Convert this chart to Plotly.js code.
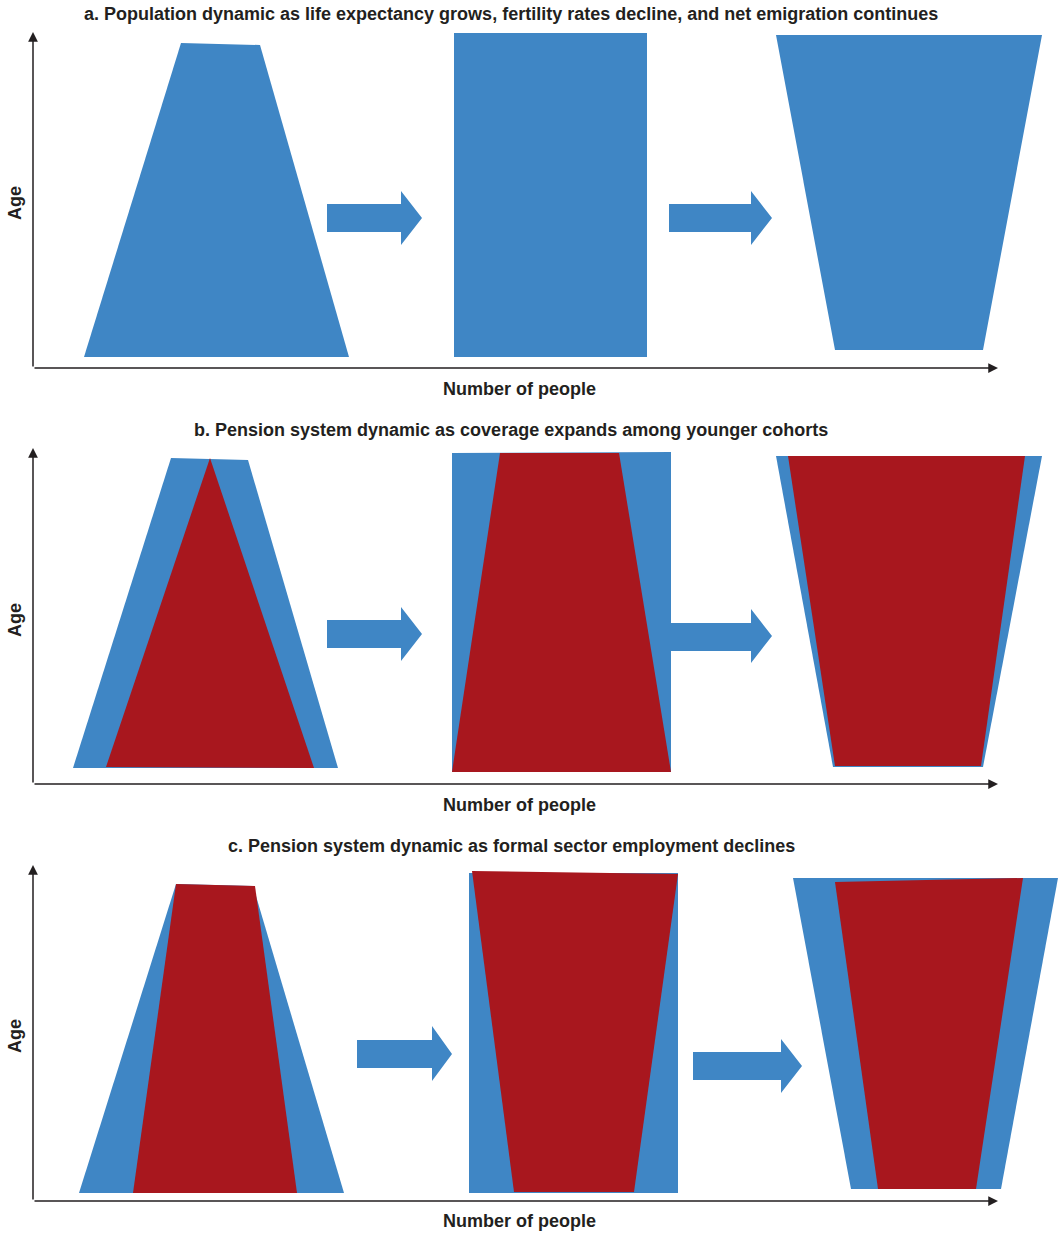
<!DOCTYPE html>
<html>
<head>
<meta charset="utf-8">
<script src="https://cdn.plot.ly/plotly-3.0.1.min.js"></script>
<style>html,body{margin:0;padding:0;background:#fff;}#chart{width:1061px;height:1235px;}</style>
</head>
<body>
<div id="chart"></div>
<script>
// ---- Data (schematic coordinates: x = number of people, y = age position in page units) ----
const panelTitles = [
  "a. Population dynamic as life expectancy grows, fertility rates decline, and net emigration continues",
  "b. Pension system dynamic as coverage expands among younger cohorts",
  "c. Pension system dynamic as formal sector employment declines"
];
const xAxisLabel = "Number of people";
const yAxisLabel = "Age";

// Panel a: population shapes
const aPop1X = [84, 181, 260, 349];   const aPop1Y = [357, 43, 45, 357];
const aPop2X = [454, 647, 647, 454];  const aPop2Y = [33, 33, 357, 357];
const aPop3X = [776, 1042, 983, 835]; const aPop3Y = [35, 35, 350, 350];
const aArrow1X = [327, 401, 401, 422, 401, 401, 327]; const aArrow1Y = [204, 204, 191, 218, 245, 232, 232];
const aArrow2X = [669, 751, 751, 772, 751, 751, 669]; const aArrow2Y = [204, 204, 191, 218, 245, 232, 232];

// Panel b: population (blue) and pension coverage (red)
const bPop1X = [73, 171, 248, 338];   const bPop1Y = [768, 458, 460, 768];
const bCov1X = [106, 210, 314];       const bCov1Y = [767, 458, 768];
const bPop2X = [452, 671, 671, 452];  const bPop2Y = [453, 452, 772, 772];
const bCov2X = [452, 500, 619, 671];  const bCov2Y = [772, 453, 453, 772];
const bPop3X = [776, 1042, 983, 833]; const bPop3Y = [456, 456, 767, 767];
const bCov3X = [788, 1025, 981, 835]; const bCov3Y = [456, 456, 766, 766];
const bArrow1X = [327, 401, 401, 422, 401, 401, 327]; const bArrow1Y = [620, 620, 607, 634, 661, 648, 648];
const bArrow2X = [671, 751, 751, 772, 751, 751, 671]; const bArrow2Y = [623, 623, 609, 636, 663, 651, 651];

// Panel c
const cPop1X = [79, 176, 253, 344];   const cPop1Y = [1193, 884, 886, 1193];
const cCov1X = [133, 176, 255, 297];  const cCov1Y = [1193, 884, 886, 1193];
const cPop2X = [469, 678, 678, 469];  const cPop2Y = [873, 873, 1193, 1193];
const cCov2X = [472, 678, 634, 514];  const cCov2Y = [871, 874, 1192, 1192];
const cPop3X = [793, 1058, 1001, 851]; const cPop3Y = [878, 878, 1189, 1189];
const cCov3X = [835, 1023, 976, 878]; const cCov3Y = [882, 878, 1189, 1189];
const cArrow1X = [357, 432, 432, 452, 432, 432, 357]; const cArrow1Y = [1040, 1040, 1026, 1054, 1081, 1068, 1068];
const cArrow2X = [693, 781, 781, 802, 781, 781, 693]; const cArrow2Y = [1052, 1052, 1039, 1066, 1093, 1080, 1080];

// Axes: origin and tips for each panel
const axisOriginX = [33, 33, 33];
const axisOriginY = [368, 784, 1201];
const axisTopY = [32, 448, 865];
const axisRightX = [998, 998, 998];

// ---- Styling ----
const BLUE = "#3F86C5";
const RED = "#A8171E";
const INK = "#231F20";
const FONT = "Liberation Sans, Arial, sans-serif";

function poly(x, y, color, ax) {
  return {
    type: "scatter", mode: "lines", x: x.concat([x[0]]), y: y.concat([y[0]]),
    fill: "toself", fillcolor: color, line: {width: 0, color: color},
    hoverinfo: "skip", showlegend: false,
    xaxis: ax[0], yaxis: ax[1]
  };
}
const A = ["x", "y"], B = ["x2", "y2"], C = ["x3", "y3"];
const traces = [
  poly(aPop1X, aPop1Y, BLUE, A), poly(aPop2X, aPop2Y, BLUE, A), poly(aPop3X, aPop3Y, BLUE, A),
  poly(aArrow1X, aArrow1Y, BLUE, A), poly(aArrow2X, aArrow2Y, BLUE, A),
  poly(bPop1X, bPop1Y, BLUE, B), poly(bCov1X, bCov1Y, RED, B),
  poly(bPop2X, bPop2Y, BLUE, B), poly(bCov2X, bCov2Y, RED, B),
  poly(bPop3X, bPop3Y, BLUE, B), poly(bCov3X, bCov3Y, RED, B),
  poly(bArrow1X, bArrow1Y, BLUE, B), poly(bArrow2X, bArrow2Y, BLUE, B),
  poly(cPop1X, cPop1Y, BLUE, C), poly(cCov1X, cCov1Y, RED, C),
  poly(cPop2X, cPop2Y, BLUE, C), poly(cCov2X, cCov2Y, RED, C),
  poly(cPop3X, cPop3Y, BLUE, C), poly(cCov3X, cCov3Y, RED, C),
  poly(cArrow1X, cArrow1Y, BLUE, C), poly(cArrow2X, cArrow2Y, BLUE, C)
];

const H = 1235;
const bands = [[0, 410], [410, 826], [826, 1235]];
function xa() { return {domain: [0, 1], range: [0, 1061], visible: false, fixedrange: true}; }
function ya(band) { return {domain: [1 - band[1] / H, 1 - band[0] / H], range: [band[1], band[0]], visible: false, fixedrange: true}; }

const axNames = [["x", "y"], ["x2", "y2"], ["x3", "y3"]];
const annotations = [];
const titleY = [14, 430, 846];
const xlabY = [389, 805, 1221];
const ylabY = [203, 620, 1036];
for (let i = 0; i < 3; i++) {
  const [xn, yn] = axNames[i];
  annotations.push({xref: xn, yref: yn, axref: xn, ayref: yn,
    x: axisOriginX[i], y: axisTopY[i], ax: axisOriginX[i], ay: axisOriginY[i],
    showarrow: true, arrowhead: 2, arrowsize: 1.3, arrowwidth: 1.5, arrowcolor: INK, text: ""});
  annotations.push({xref: xn, yref: yn, axref: xn, ayref: yn,
    x: axisRightX[i], y: axisOriginY[i], ax: axisOriginX[i], ay: axisOriginY[i],
    showarrow: true, arrowhead: 2, arrowsize: 1.3, arrowwidth: 1.5, arrowcolor: INK, text: ""});
  annotations.push({xref: "paper", yref: "paper", x: 511 / 1061, y: 1 - titleY[i] / H,
    xanchor: "center", yanchor: "middle", showarrow: false, text: "<b>" + panelTitles[i] + "</b>",
    font: {family: FONT, size: 18, color: INK}});
  annotations.push({xref: "paper", yref: "paper", x: 519 / 1061, y: 1 - xlabY[i] / H,
    xanchor: "center", yanchor: "middle", showarrow: false, text: "<b>" + xAxisLabel + "</b>",
    font: {family: FONT, size: 18, color: INK}});
  annotations.push({xref: "paper", yref: "paper", x: 15 / 1061, y: 1 - ylabY[i] / H,
    xanchor: "center", yanchor: "middle", showarrow: false, textangle: -90, text: "<b>" + yAxisLabel + "</b>",
    font: {family: FONT, size: 18, color: INK}});
}

const layout = {
  width: 1061, height: 1235,
  margin: {l: 0, r: 0, t: 0, b: 0},
  paper_bgcolor: "#fff", plot_bgcolor: "rgba(0,0,0,0)",
  showlegend: false,
  xaxis: xa(), yaxis: ya(bands[0]),
  xaxis2: xa(), yaxis2: ya(bands[1]),
  xaxis3: xa(), yaxis3: ya(bands[2]),
  annotations: annotations
};
Plotly.newPlot("chart", traces, layout, {displayModeBar: false, staticPlot: true});
</script>
</body>
</html>
